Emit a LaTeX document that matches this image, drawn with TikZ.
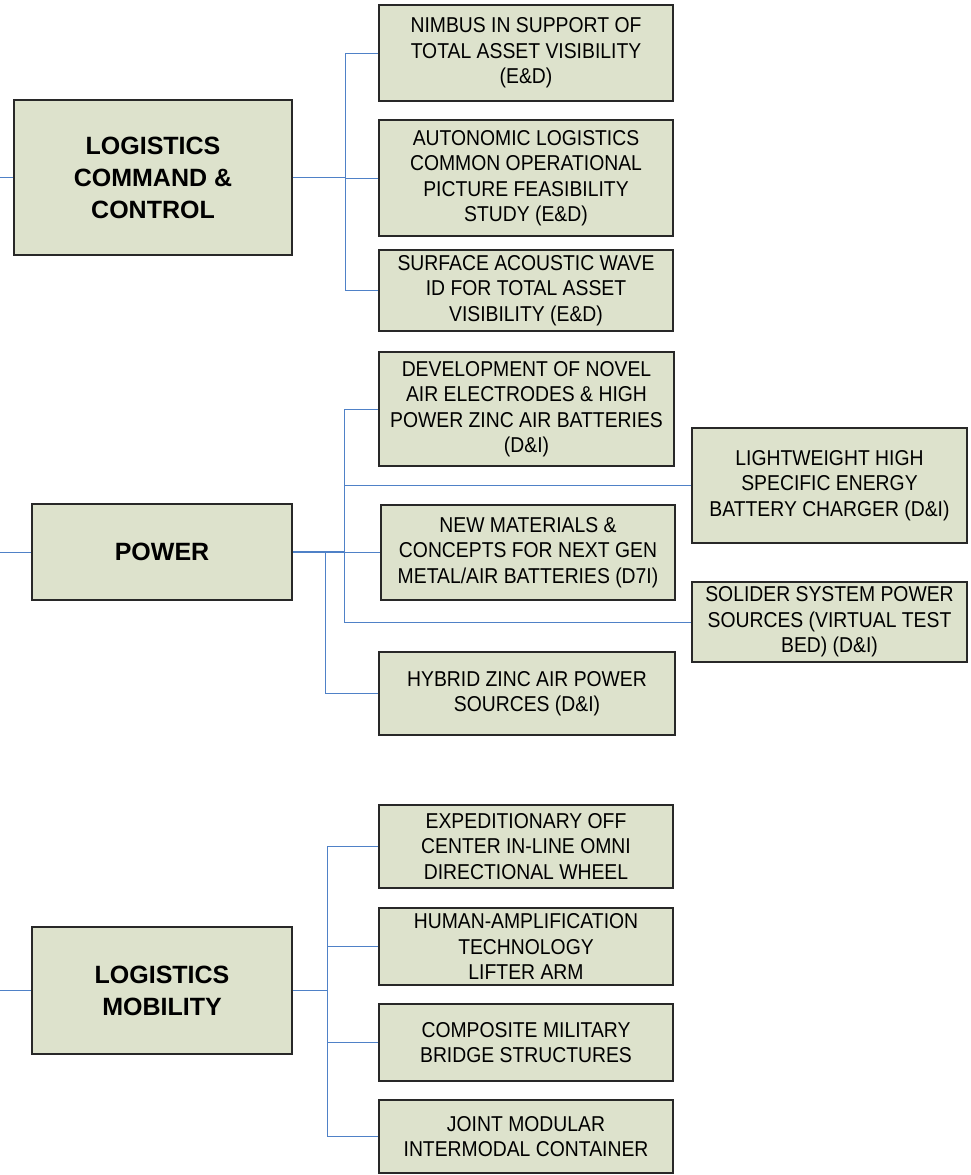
\documentclass[tikz,border=0pt]{standalone}
\usepackage{fontspec}
\setmainfont{Liberation Sans}
\newfontfamily\narrowfont{Liberation Sans}[FakeStretch=0.9]
\definecolor{boxfill}{RGB}{221,226,204}
\definecolor{boxdraw}{RGB}{40,40,40}
\definecolor{conncol}{RGB}{79,129,199}
\tikzset{
  base/.style={draw=boxdraw, line width=1.2pt, fill=boxfill, inner sep=0pt, align=center},
  parent/.style={base, font=\fontsize{25}{32}\selectfont\bfseries},
  child/.style={base, font=\narrowfont\fontsize{21.5}{25.5}\selectfont},
  conn/.style={draw=conncol, line width=1pt},
  trunk/.style={draw=conncol, line width=1.6pt},
}
\begin{document}
\begin{tikzpicture}[x=1pt,y=-1pt]
\useasboundingbox (0,0) rectangle (970,1175);
% Logistics command & control
\node[parent, minimum width=278, minimum height=155] (lcc) at (153,177.5) {LOGISTICS\\COMMAND \&\\CONTROL};
\node[child, minimum width=294, minimum height=96] (nimbus) at (526,53) {NIMBUS IN SUPPORT OF\\TOTAL ASSET VISIBILITY\\(E\&D)};
\node[child, minimum width=294, minimum height=116] (auto) at (526,178) {AUTONOMIC LOGISTICS\\COMMON OPERATIONAL\\PICTURE FEASIBILITY\\STUDY (E\&D)};
\node[child, minimum width=294, minimum height=81] (saw) at (526,290.5) {SURFACE ACOUSTIC WAVE\\ID FOR TOTAL ASSET\\VISIBILITY (E\&D)};
% Power
\node[parent, minimum width=260, minimum height=96] (power) at (162,552) {POWER};
\node[child, minimum width=295, minimum height=114] (dev) at (526.5,409) {DEVELOPMENT OF NOVEL\\AIR ELECTRODES \& HIGH\\POWER ZINC AIR BATTERIES\\(D\&I)};
\node[child, minimum width=275, minimum height=115] (light) at (829.5,485.5) {LIGHTWEIGHT HIGH\\SPECIFIC ENERGY\\BATTERY CHARGER (D\&I)};
\node[child, minimum width=294, minimum height=95] (newm) at (528,552.5) {NEW MATERIALS \&\\CONCEPTS FOR NEXT GEN\\METAL/AIR BATTERIES (D7I)};
\node[child, minimum width=275, minimum height=80] (solid) at (829.5,622) {SOLIDER SYSTEM POWER\\SOURCES (VIRTUAL TEST\\BED) (D\&I)};
\node[child, minimum width=296, minimum height=83] (hybrid) at (527,693.5) {HYBRID ZINC AIR POWER\\SOURCES (D\&I)};
% Logistics mobility
\node[parent, minimum width=260, minimum height=127] (lm) at (162,990.5) {LOGISTICS\\MOBILITY};
\node[child, minimum width=294, minimum height=83] (exped) at (526,846.5) {EXPEDITIONARY OFF\\CENTER IN-LINE OMNI\\DIRECTIONAL WHEEL};
\node[child, minimum width=294, minimum height=77] (human) at (526,946.5) {HUMAN-AMPLIFICATION\\TECHNOLOGY\\LIFTER ARM};
\node[child, minimum width=294, minimum height=77] (comp) at (526,1042.5) {COMPOSITE MILITARY\\BRIDGE STRUCTURES};
\node[child, minimum width=294, minimum height=73] (joint) at (526,1136.5) {JOINT MODULAR\\INTERMODAL CONTAINER};
% free ends and junctions
\coordinate (s1) at (0,177.5);
\coordinate (s2) at (0,552);
\coordinate (s3) at (0,990.5);
\coordinate (j1) at (345,177.5);
\coordinate (jp) at (344,552);
\coordinate (jq) at (325,552);
\coordinate (jm) at (327,990.5);
% connectors
\draw[conn] (s1) -- (lcc.west);
\draw[conn] (s2) -- (power.west);
\draw[conn] (s3) -- (lm.west);
\draw[trunk] (lcc.east) -- (j1);
\draw[conn] (j1) |- (nimbus.west);
\draw[conn] (j1) |- (auto.west);
\draw[conn] (j1) |- (saw.west);
\draw[trunk] (power.east) -- (jp);
\draw[conn] (jp) |- (dev.west);
\draw[conn] (jp) |- (light.west);
\draw[conn] (jp) |- (newm.west);
\draw[conn] (jp) |- (solid.west);
\draw[conn] (jq) |- (hybrid.west);
\draw[trunk] (lm.east) -- (jm);
\draw[conn] (jm) |- (exped.west);
\draw[conn] (jm) |- (human.west);
\draw[conn] (jm) |- (comp.west);
\draw[conn] (jm) |- (joint.west);
\end{tikzpicture}
\end{document}
